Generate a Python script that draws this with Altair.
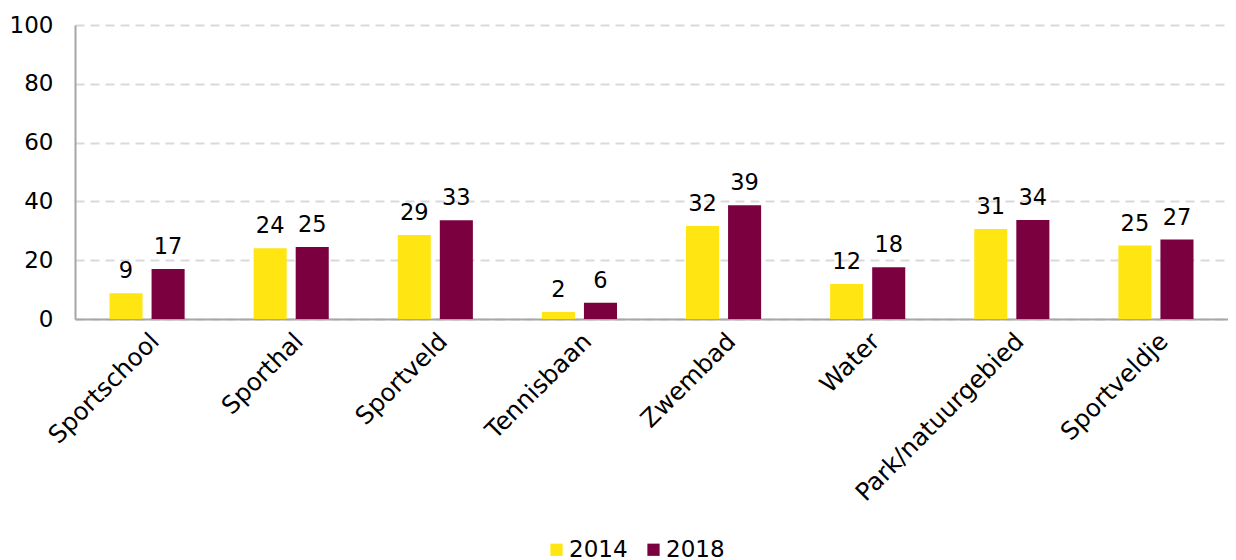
import altair as alt
import pandas as pd

categories = ["Sportschool", "Sporthal", "Sportveld", "Tennisbaan", "Zwembad",
              "Water", "Park/natuurgebied", "Sportveldje"]
years = ["2014", "2018"]
v2014 = [8.8, 24.1, 28.6, 2.4, 31.6, 11.9, 30.6, 25.0]
v2018 = [17.0, 24.5, 33.6, 5.5, 38.7, 17.6, 33.7, 27.0]
lab2014 = [9, 24, 29, 2, 32, 12, 31, 25]
lab2018 = [17, 25, 33, 6, 39, 18, 34, 27]
colors = ["#FFE512", "#7A003F"]

rows = []
for i, c in enumerate(categories):
    rows.append({"cat": c, "year": years[0], "value": v2014[i], "label": str(lab2014[i])})
    rows.append({"cat": c, "year": years[1], "value": v2018[i], "label": str(lab2018[i])})
df = pd.DataFrame(rows)

FONT = "DejaVu Sans"

x = alt.X("cat:N", sort=categories, title=None,
          scale=alt.Scale(paddingInner=0, paddingOuter=0),
          axis=alt.Axis(labelAngle=-45, labelFontSize=24.5, labelColor="#000000",
                        labelFont=FONT, ticks=False, labelPadding=10,
                        domainColor="#A6A6A6", domainWidth=2, labelLimit=400))
xo = alt.XOffset("year:N", sort=years,
                 scale=alt.Scale(paddingInner=0.214, paddingOuter=0.82))

bars = alt.Chart(df).mark_bar().encode(
    x=x,
    xOffset=xo,
    y=alt.Y("value:Q", title=None,
            scale=alt.Scale(domain=[0, 100]),
            axis=alt.Axis(values=[0, 20, 40, 60, 80, 100], labelFontSize=23,
                          labelFont=FONT, labelColor="#000000", ticks=False,
                          labelPadding=22, domainColor="#A6A6A6", domainWidth=2,
                          grid=True, gridDash=[9, 6], gridColor="#D9D9D9",
                          gridWidth=2)),
    color=alt.Color("year:N", sort=years, title=None,
                    scale=alt.Scale(domain=years, range=colors),
                    legend=alt.Legend(orient="none", legendX=470, legendY=513,
                                      direction="horizontal", symbolType="square",
                                      symbolSize=150, symbolStrokeWidth=0,
                                      labelFontSize=23, labelFont=FONT,
                                      labelColor="#000000", columnPadding=14,
                                      labelOffset=1)),
)

texts = alt.Chart(df).mark_text(baseline="alphabetic", dy=-15, fontSize=22.5,
                                font=FONT, color="#000000").encode(
    x=alt.X("cat:N", sort=categories),
    xOffset=alt.XOffset("year:N", sort=years),
    y=alt.Y("value:Q"),
    text="label:N",
)

chart = (bars + texts).properties(
    width=1153, height=294,
    autosize=alt.AutoSizeParams(type="none"),
    padding={"left": 67, "top": 17, "right": 0, "bottom": 247},
).configure_view(stroke=None)

chart.save("out.html", embed_options={"renderer": "svg", "actions": False})
